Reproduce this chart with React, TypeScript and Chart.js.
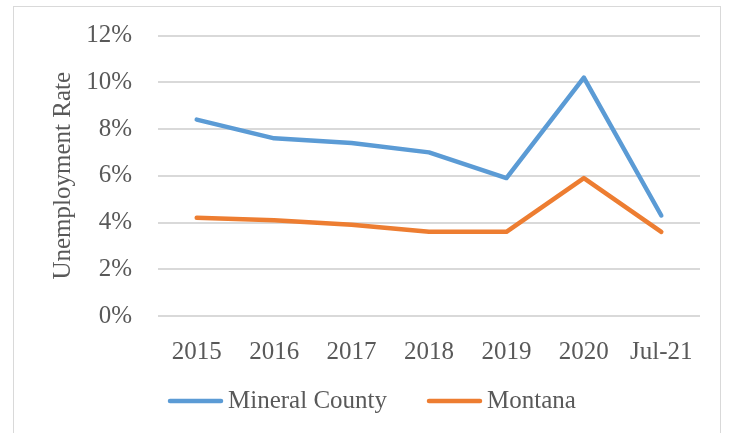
import React, { useEffect, useRef } from "react";
import { Chart, registerables } from "chart.js";

Chart.register(...registerables);

const categories = ["2015", "2016", "2017", "2018", "2019", "2020", "Jul-21"];
const mineralCounty = [8.4, 7.6, 7.4, 7.0, 5.9, 10.2, 4.3];
const montana = [4.2, 4.1, 3.9, 3.6, 3.6, 5.9, 3.6];
const seriesNames = ["Mineral County", "Montana"];
const seriesColors = ["#5B9BD5", "#ED7D31"];
const yTitle = "Unemployment Rate";
const yMin = 0;
const yMax = 12;
const yStep = 2;

const FONT = '"Liberation Serif", "Times New Roman", serif';
const TEXT = "#595959";
const GRID = "#d9d9d9";

const framePlugin = {
  id: "frame",
  beforeDraw(chart: any) {
    const ctx = chart.ctx;
    ctx.save();
    ctx.fillStyle = "#ffffff";
    ctx.fillRect(0, 0, chart.width, chart.height);
    ctx.strokeStyle = GRID;
    ctx.lineWidth = 1;
    ctx.strokeRect(13.5, 6.5, 707, 500);
    ctx.restore();
  },
};

const legendPlugin = {
  id: "excelLegend",
  afterDraw(chart: any) {
    const ctx = chart.ctx;
    const datasets = chart.data.datasets;
    const lineLen = 55;
    const gapText = 5;
    const gapItem = 40;
    const y = 401;
    ctx.save();
    ctx.font = `25px ${FONT}`;
    const widths = datasets.map((d: any) => ctx.measureText(d.label).width);
    let x = 168;
    datasets.forEach((d: any, i: number) => {
      ctx.strokeStyle = d.borderColor;
      ctx.lineWidth = 4.5;
      ctx.lineCap = "round";
      ctx.beginPath();
      ctx.moveTo(x + 2, y);
      ctx.lineTo(x + lineLen - 2, y);
      ctx.stroke();
      ctx.fillStyle = TEXT;
      ctx.textBaseline = "middle";
      ctx.textAlign = "left";
      ctx.fillText(d.label, x + lineLen + gapText, y);
      x += lineLen + gapText + widths[i] + gapItem;
    });
    ctx.restore();
  },
};

export default function App() {
  const ref = useRef<HTMLCanvasElement | null>(null);

  useEffect(() => {
    if (!ref.current) return;
    const chart = new Chart(ref.current, {
      type: "line",
      data: {
        labels: categories,
        datasets: [
          {
            label: seriesNames[0],
            data: mineralCounty,
            borderColor: seriesColors[0],
            backgroundColor: seriesColors[0],
            borderWidth: 4.5,
            pointRadius: 0,
            borderCapStyle: "round",
            borderJoinStyle: "round",
            tension: 0,
          },
          {
            label: seriesNames[1],
            data: montana,
            borderColor: seriesColors[1],
            backgroundColor: seriesColors[1],
            borderWidth: 4.5,
            pointRadius: 0,
            borderCapStyle: "round",
            borderJoinStyle: "round",
            tension: 0,
          },
        ],
      },
      options: {
        responsive: false,
        animation: false,
        devicePixelRatio: 1,
        layout: { padding: { left: 48, top: 35.5, right: 33, bottom: 67 } },
        plugins: {
          legend: { display: false },
          tooltip: { enabled: false },
          title: { display: false },
        },
        scales: {
          x: {
            offset: true,
            grid: { display: false },
            border: { display: false },
            ticks: {
              color: TEXT,
              font: { family: FONT, size: 25 },
              padding: 13,
              maxRotation: 0,
              autoSkip: false,
            },
            afterFit(scale: any) {
              scale.height = 50;
            },
          },
          y: {
            min: yMin,
            max: yMax,
            grid: {
              color: GRID,
              lineWidth: 2,
              drawTicks: true,
              tickLength: 26,
              tickColor: "rgba(0,0,0,0)",
            },
            border: { display: false },
            ticks: {
              stepSize: yStep,
              color: TEXT,
              font: { family: FONT, size: 25 },
              padding: 0,
              callback: (v: any) => `${v}%`,
            },
            title: {
              display: true,
              text: yTitle,
              color: TEXT,
              font: { family: FONT, size: 25, weight: "normal" },
              padding: 0,
            },
            afterFit(scale: any) {
              scale.width = 110;
            },
          },
        },
      },
      plugins: [framePlugin, legendPlugin],
    });
    return () => chart.destroy();
  }, []);

  return (
    <div style={{ position: "fixed", left: 0, top: 0, width: 733, height: 433, background: "#fff" }}>
      <canvas ref={ref} width={733} height={433} style={{ display: "block" }} />
    </div>
  );
}
